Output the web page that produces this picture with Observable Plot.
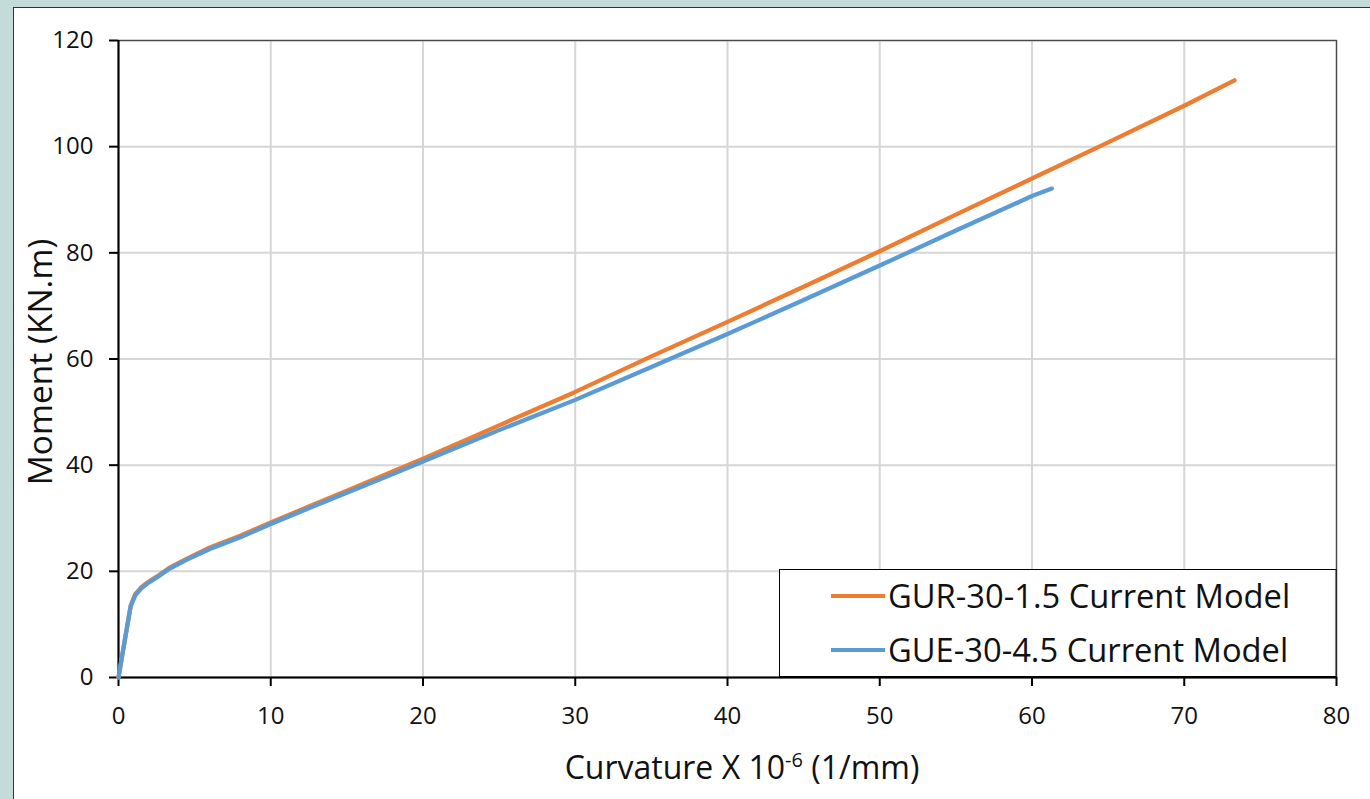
<!DOCTYPE html>
<html>
<head>
<meta charset="utf-8">
<script src="https://cdn.jsdelivr.net/npm/d3@7"></script>
<script src="https://cdn.jsdelivr.net/npm/@observablehq/plot@0.6"></script>
<style>
  html, body { margin: 0; padding: 0; }
  body { width: 1370px; height: 799px; overflow: hidden; background: #c3dcda; position: relative; font-family: "Open Sans", sans-serif; }
  #panel { position: absolute; left: 13px; top: 7px; width: 1400px; height: 850px; background: #ffffff; border-left: 1px solid #333; border-top: 1px solid #333; }
  #chart { position: absolute; left: 0; top: 0; }
</style>
</head>
<body>
<div id="panel"></div>
<div id="chart"></div>
<script>
// Moment–curvature response from the current model
const curvatureGUR = [0, 0.4, 0.8, 1.1, 1.5, 1.9, 2.5, 3.3, 4.5, 6, 8, 10, 12.5, 15, 17.5, 20, 25, 30, 35, 40, 45, 50, 55, 60, 65, 70, 73.3];
const momentGUR    = [0, 6.8, 13.5, 15.7, 17, 17.9, 19, 20.6, 22.4, 24.5, 26.7, 29.2, 32.2, 35.2, 38.2, 41.2, 47.5, 53.8, 60.5, 67, 73.6, 80.3, 87.2, 94, 100.8, 107.7, 112.5];

const curvatureGUE = [0, 0.4, 0.8, 1.1, 1.5, 1.9, 2.5, 3.3, 4.5, 6, 8, 10, 12.5, 15, 17.5, 20, 25, 30, 35, 40, 45, 50, 55, 60, 61.3];
const momentGUE    = [0, 6.8, 13.4, 15.5, 16.8, 17.7, 18.8, 20.4, 22.2, 24.2, 26.4, 28.9, 31.9, 34.8, 37.7, 40.7, 46.6, 52.3, 58.5, 64.7, 71.1, 77.6, 84.2, 90.7, 92.1];

const seriesNames = ["GUR-30-1.5 Current Model", "GUE-30-4.5 Current Model"];
const seriesColors = ["#ed7d31", "#5b9bd5"];

const xTicks = [0, 10, 20, 30, 40, 50, 60, 70, 80];
const yTicks = [0, 20, 40, 60, 80, 100, 120];

const gur = curvatureGUR.map((c, i) => ({curvature: c, moment: momentGUR[i]}));
const gue = curvatureGUE.map((c, i) => ({curvature: c, moment: momentGUE[i]}));

const W = 1370, H = 799;
const mL = 118, mR = 34, mT = 40, mB = 122;

const chart = Plot.plot({
  width: W,
  height: H,
  marginLeft: mL,
  marginRight: mR,
  marginTop: mT,
  marginBottom: mB,
  style: {background: "transparent", fontFamily: "'Open Sans', sans-serif", fontSize: "24px", color: "#000", overflow: "visible"},
  x: {domain: [0, 80]},
  y: {domain: [0, 120]},
  marks: [
    Plot.gridX(xTicks, {stroke: "#d6d6d6", strokeOpacity: 1, strokeWidth: 2}),
    Plot.gridY(yTicks, {stroke: "#d6d6d6", strokeOpacity: 1, strokeWidth: 2}),
    Plot.frame({stroke: "#4a4a4a", strokeWidth: 1.3}),
    Plot.axisX(xTicks, {tickSize: 9, tickPadding: 20, strokeWidth: 2, label: null, tickFormat: d => String(d), fill: "#111"}),
    Plot.axisY(yTicks, {tickSize: 9, tickPadding: 16, strokeWidth: 2, label: null, tickFormat: d => String(d), fill: "#111"}),
    Plot.ruleY([0], {stroke: "#000", strokeWidth: 2}),
    Plot.ruleX([0], {stroke: "#000", strokeWidth: 2}),
    Plot.line(gur, {x: "curvature", y: "moment", stroke: seriesColors[0], strokeWidth: 4.3}),
    Plot.line(gue, {x: "curvature", y: "moment", stroke: seriesColors[1], strokeWidth: 4.3})
  ]
});

document.getElementById("chart").appendChild(chart);

const svg = d3.select(chart);

// Axis titles
svg.append("text")
  .attr("transform", "translate(43,362) rotate(-90)")
  .attr("text-anchor", "middle")
  .attr("dominant-baseline", "middle")
  .style("font-size", "33.5px")
  .attr("fill", "#111")
  .text("Moment (KN.m)");

const xt = svg.append("text")
  .attr("x", 742)
  .attr("y", 779)
  .attr("text-anchor", "middle")
  .style("font-size", "32px")
  .attr("fill", "#111");
xt.append("tspan").text("Curvature X 10");
xt.append("tspan").attr("dy", "-12").style("font-size", "20px").text("-6");
xt.append("tspan").attr("dy", "12").text(" (1/mm)");

// Legend box in the lower right of the plot area
const lg = svg.append("g");
lg.append("rect")
  .attr("x", 779.5).attr("y", 569.5)
  .attr("width", W - mR - 779.5).attr("height", H - mB - 569.5)
  .attr("fill", "#fff").attr("stroke", "#000").attr("stroke-width", 1);
seriesNames.forEach((name, i) => {
  const cy = 596 + i * 54;
  lg.append("line")
    .attr("x1", 831).attr("x2", 885).attr("y1", cy).attr("y2", cy)
    .attr("stroke", seriesColors[i]).attr("stroke-width", 4);
  lg.append("text")
    .attr("x", 888).attr("y", cy)
    .attr("dy", "0.36em")
    .attr("text-anchor", "start")
    .style("font-size", "32.7px")
    .attr("fill", "#111")
    .text(name);
});
// redraw bottom axis line over the legend's lower edge
svg.append("line")
  .attr("x1", 779).attr("x2", W - mR).attr("y1", H - mB).attr("y2", H - mB)
  .attr("stroke", "#000").attr("stroke-width", 2);
</script>
</body>
</html>
